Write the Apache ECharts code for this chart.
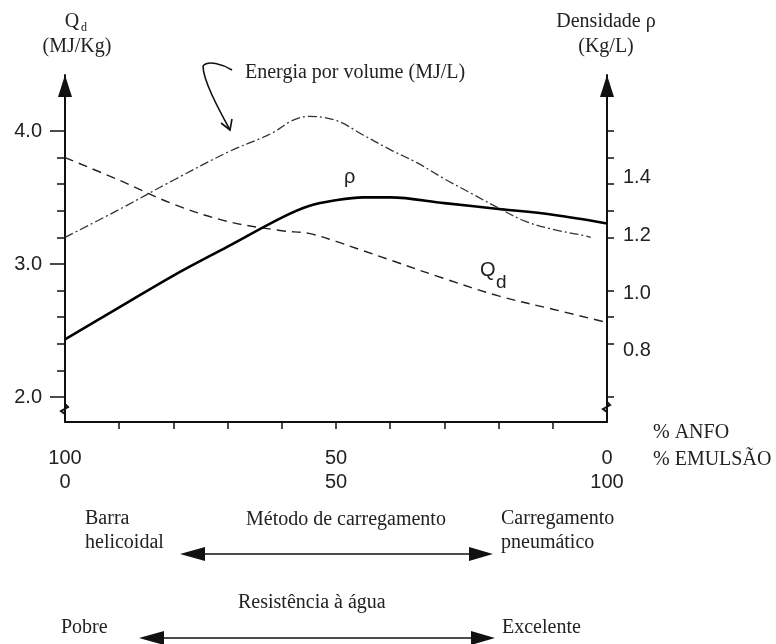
<!DOCTYPE html>
<html>
<head>
<meta charset="utf-8">
<script src="https://cdn.jsdelivr.net/npm/echarts@6/dist/echarts.min.js"></script>
<style>
  html, body { margin: 0; padding: 0; background: #fff; }
  #chart { width: 776px; height: 644px; }
</style>
</head>
<body>
<div id="chart"></div>
<script>
// % ANFO along the horizontal axis (100 on the left, 0 on the right)
const anfoPct     = [100, 90, 80, 70, 60, 55, 50, 45, 40, 30, 20, 10, 0];
// Heat of explosion Qd (MJ/Kg), left scale
const qdValues    = [3.80, 3.63, 3.45, 3.32, 3.25, 3.23, 3.17, 3.10, 3.03, 2.89, 2.76, 2.66, 2.56];
// Density rho (Kg/L), right scale
const rhoValues   = [0.84, 0.95, 1.06, 1.16, 1.26, 1.30, 1.32, 1.33, 1.33, 1.31, 1.29, 1.27, 1.24];

// Energy per volume (MJ/L), read on the left scale
const energyAnfo   = [100, 90, 80, 70, 62, 58, 55, 50, 45, 40, 35, 30, 25, 20, 15, 10, 5, 3];
const energyValues = [3.20, 3.41, 3.63, 3.84, 3.98, 4.08, 4.11, 4.08, 3.97, 3.86, 3.76, 3.64, 3.53, 3.42, 3.32, 3.26, 3.22, 3.20];

// Tick labels
const anfoTickLabels    = [100, 50, 0];
const emulsaoTickLabels = [0, 50, 100];
const xMinorTicks       = [10, 20, 30, 40, 50, 60, 70, 80, 90];
const qdMajorTicks      = [2.0, 3.0, 4.0];
const qdMinorTicks      = [2.2, 2.4, 2.6, 2.8, 3.2, 3.4, 3.6, 3.8];
const rightSideTicks    = [2.0, 2.4, 2.6, 2.8, 3.2, 3.4, 3.6, 3.8, 4.0];
const rhoTickLabels     = [0.8, 1.0, 1.2, 1.4];

const QD_MIN = 1.812, QD_MAX = 4.421;
const RHO_MIN = 0.555, RHO_MAX = 1.752;

const SANS = '"Liberation Sans", Arial, sans-serif';
const SERIF = '"Liberation Serif", "Times New Roman", serif';
const INK = '#111';
const TXT = '#222';

const chart = echarts.init(document.getElementById('chart'), null, { renderer: 'canvas' });

const axisLineWithArrow = {
  show: true,
  onZero: false,
  symbol: ['none', 'triangle'],
  symbolSize: [14, 22],
  symbolOffset: [0, -11],
  lineStyle: { color: INK, width: 2 }
};

function pairs(xs, ys) { return xs.map((x, i) => [x, ys[i]]); }

function serifText(text, x, y, align) {
  return {
    type: 'text', x: x, y: y, silent: true,
    style: { text: text, font: '20px ' + SERIF, fill: TXT, align: align || 'left', verticalAlign: 'middle' }
  };
}
function sansText(text, x, y, size, align) {
  return {
    type: 'text', x: x, y: y, silent: true,
    style: { text: text, font: size + 'px ' + SANS, fill: TXT, align: align || 'left', verticalAlign: 'middle' }
  };
}
function doubleArrow(x1, x2, y) {
  return [
    { type: 'line', silent: true, shape: { x1: x1 + 20, y1: y, x2: x2 - 20, y2: y }, style: { stroke: INK, lineWidth: 1.6 } },
    { type: 'polygon', silent: true, shape: { points: [[x1, y], [x1 + 25, y - 7], [x1 + 25, y + 7]] }, style: { fill: INK } },
    { type: 'polygon', silent: true, shape: { points: [[x2, y], [x2 - 24, y - 7], [x2 - 24, y + 7]] }, style: { fill: INK } }
  ];
}

const option = {
  animation: false,
  backgroundColor: '#fff',
  grid: { left: 65, right: 169, top: 75, bottom: 222, outerBoundsMode: 'none', containLabel: false },
  xAxis: {
    type: 'value', min: 0, max: 100, inverse: true,
    axisLine: { show: true, onZero: false, lineStyle: { color: INK, width: 2 } },
    axisTick: { show: true, length: 7, customValues: xMinorTicks, lineStyle: { color: INK, width: 1.5 } },
    axisLabel: {
      customValues: anfoTickLabels,
      formatter: function (v) {
        const i = anfoTickLabels.indexOf(v);
        return v + '\n' + emulsaoTickLabels[i];
      },
      fontSize: 20, fontFamily: SANS, color: TXT, lineHeight: 24, margin: 24
    },
    splitLine: { show: false }
  },
  yAxis: [
    {
      type: 'value', position: 'left', min: QD_MIN, max: QD_MAX,
      axisLine: axisLineWithArrow,
      axisTick: { show: true, length: 15, customValues: qdMajorTicks, lineStyle: { color: INK, width: 1.5 } },
      axisLabel: { customValues: qdMajorTicks, formatter: v => v.toFixed(1), fontSize: 20, fontFamily: SANS, color: TXT, margin: 23 },
      splitLine: { show: false }
    },
    {
      type: 'value', position: 'right', min: RHO_MIN, max: RHO_MAX,
      axisLine: axisLineWithArrow,
      axisTick: { show: false },
      axisLabel: { customValues: rhoTickLabels, formatter: v => v.toFixed(1), fontSize: 20, fontFamily: SANS, color: TXT, margin: 16 },
      splitLine: { show: false }
    },
    {
      type: 'value', position: 'left', min: QD_MIN, max: QD_MAX,
      axisLine: { show: false, onZero: false },
      axisTick: { show: true, length: 8, customValues: qdMinorTicks, lineStyle: { color: INK, width: 1.5 } },
      axisLabel: { show: false },
      splitLine: { show: false }
    },
    {
      type: 'value', position: 'right', min: QD_MIN, max: QD_MAX,
      axisLine: { show: false, onZero: false },
      axisTick: { show: true, length: 7, customValues: rightSideTicks, lineStyle: { color: INK, width: 1.5 } },
      axisLabel: { show: false },
      splitLine: { show: false }
    }
  ],
  series: [
    {
      name: 'Qd', type: 'line', yAxisIndex: 0, smooth: 0.35, symbol: 'none',
      data: pairs(anfoPct, qdValues),
      lineStyle: { color: '#222', width: 1.4, type: [9, 6] }
    },
    {
      name: 'rho', type: 'line', yAxisIndex: 1, smooth: 0.35, symbol: 'none',
      data: pairs(anfoPct, rhoValues),
      lineStyle: { color: '#000', width: 2.6 }
    },
    {
      name: 'Energia por volume', type: 'line', yAxisIndex: 0, smooth: 0.35, symbol: 'none',
      data: pairs(energyAnfo, energyValues),
      lineStyle: { color: '#333', width: 1.3, type: [9, 3, 2, 3] }
    }
  ],
  graphic: [
    // Axis titles
    { type: 'text', x: 72, y: 22, silent: true, style: { text: 'Q', font: '20px ' + SERIF, fill: TXT, align: 'center', verticalAlign: 'middle' } },
    { type: 'text', x: 84, y: 28, silent: true, style: { text: 'd', font: '12px ' + SERIF, fill: TXT, align: 'center', verticalAlign: 'middle' } },
    serifText('(MJ/Kg)', 77, 47, 'center'),
    serifText('Densidade ρ', 606, 22, 'center'),
    serifText('(Kg/L)', 606, 47, 'center'),

    // Energy per volume label with its hooked pointer
    serifText('Energia por volume (MJ/L)', 245, 73),
    { type: 'bezierCurve', silent: true,
      shape: { x1: 232, y1: 70, cpx1: 222, cpy1: 64, cpx2: 208, cpy2: 60, x2: 203, y2: 66 },
      style: { stroke: INK, lineWidth: 1.6, fill: 'none' } },
    { type: 'bezierCurve', silent: true,
      shape: { x1: 203, y1: 66, cpx1: 203, cpy1: 80, cpx2: 218, cpy2: 108, x2: 230, y2: 130 },
      style: { stroke: INK, lineWidth: 1.6, fill: 'none' } },
    { type: 'polyline', silent: true,
      shape: { points: [[221, 123], [230, 130], [232, 119]] },
      style: { stroke: INK, lineWidth: 1.6, fill: 'none' } },

    // Curve labels
    sansText('ρ', 344, 177, 20),
    sansText('Q', 480, 270, 20),
    sansText('d', 496, 283, 19),

    // Axis break marks
    { type: 'polyline', silent: true, shape: { points: [[65, 404], [68, 407], [61, 411], [65, 414]] }, style: { stroke: INK, lineWidth: 2, fill: 'none' } },
    { type: 'polyline', silent: true, shape: { points: [[607, 402], [610, 405], [603, 409], [607, 412]] }, style: { stroke: INK, lineWidth: 2, fill: 'none' } },

    // Horizontal axis names
    serifText('% ANFO', 653, 433),
    serifText('% EMULSÃO', 653, 460),

    // Loading method scale
    serifText('Barra', 85, 519),
    serifText('helicoidal', 85, 543),
    serifText('Método de carregamento', 246, 520),
    serifText('Carregamento', 501, 519),
    serifText('pneumático', 501, 543),
    ...doubleArrow(180, 493, 554),

    // Water resistance scale
    serifText('Resistência à água', 238, 603),
    serifText('Pobre', 61, 628),
    serifText('Excelente', 502, 628),
    ...doubleArrow(139, 495, 638)
  ]
};

chart.setOption(option);
</script>
</body>
</html>
